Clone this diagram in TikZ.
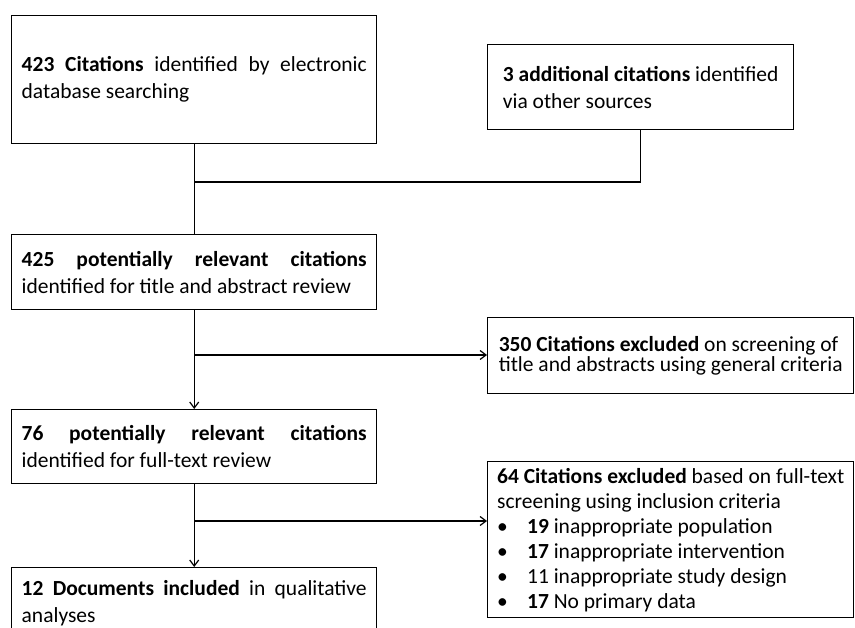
\documentclass[tikz,border=0pt]{standalone}
\usepackage{fontspec}
\setmainfont{Carlito}
\usetikzlibrary{arrows.meta}

\begin{document}
\begin{tikzpicture}[x=1pt,y=-1pt,
  box/.style={draw, line width=1.4pt, anchor=north west, inner xsep=10pt, inner ysep=0pt,
    text width=345pt, align=justify, font=\fontsize{21.5}{27}\selectfont},
  rbox/.style={draw, line width=1.4pt, anchor=north west, inner sep=0pt,
    minimum width=366pt, align=left, font=\fontsize{21.5}{27}\selectfont},
  line/.style={line width=1.4pt},
  arr/.style={line, -{Straight Barb[length=6pt,width=9pt,line width=1.2pt]}}]
\clip (0,0) rectangle (855,628);
\node[box, minimum height=128pt] (cit) at (11,15)
  {\textbf{423 Citations} identified by electronic\linebreak database searching};
\node[rbox, minimum width=306pt, minimum height=85pt] (add) at (487,44)
  {\textbf{3 additional citations} identified\\via other sources};
\node[box, minimum height=75pt] (pot) at (11,234)
  {\textbf{425 potentially relevant citations}\linebreak identified for title and abstract review};
\node[rbox, minimum height=76pt, font=\fontsize{21.5}{20}\selectfont] (ex1) at (487,317)
  {\textbf{350 Citations excluded} on screening of\\title and abstracts using general criteria};
\node[box, minimum height=74pt] (ft) at (11,409)
  {\textbf{76 potentially relevant citations}\linebreak identified for full-text review};
\node[rbox, minimum height=156pt, font=\fontsize{21.5}{25}\selectfont] (ex2) at (487,461)
  {\textbf{64 Citations excluded} based on full-text\\screening using inclusion criteria\\
   \makebox[30pt][l]{\textbullet}\textbf{19} inappropriate population\\
   \makebox[30pt][l]{\textbullet}\textbf{17} inappropriate intervention\\
   \makebox[30pt][l]{\textbullet}11 inappropriate study design\\
   \makebox[30pt][l]{\textbullet}\textbf{17} No primary data};
\node[box, minimum height=70pt] (inc) at (11,567)
  {\textbf{12 Documents included} in qualitative\linebreak analyses};
\coordinate (j1) at (cit.south |- 0,182);
\coordinate (j2) at (pot.south |- 0,355);
\coordinate (j3) at (ft.south |- 0,521);
\draw[line] (cit.south) -- (pot.north);
\draw[line] (add.south) |- (j1);
\draw[arr] (pot.south) -- (ft.north);
\draw[arr] (j2) -- (j2 -| ex1.west);
\draw[arr] (ft.south) -- (inc.north);
\draw[arr] (j3) -- (j3 -| ex2.west);
\end{tikzpicture}
\end{document}
